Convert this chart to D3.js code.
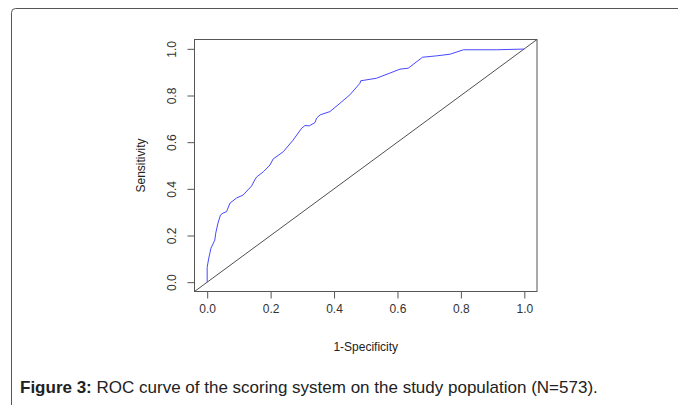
<!DOCTYPE html>
<html>
<head>
<meta charset="utf-8">
<script src="https://cdn.jsdelivr.net/npm/d3@7"></script>
<style>
  body { margin: 0; background: #fff; }
  svg { display: block; font-family: "Liberation Sans", Arial, sans-serif; }
</style>
</head>
<body>
<div id="chart"></div>
<script>
// ROC curve points (1-specificity, sensitivity)
var fpr = [0, 0, 0.005, 0.012, 0.024, 0.027, 0.034, 0.042, 0.050, 0.061, 0.072, 0.093,
    0.113, 0.128, 0.140, 0.150, 0.156, 0.177, 0.198, 0.208, 0.240, 0.271, 0.298, 0.308,
    0.322, 0.340, 0.345, 0.356, 0.387, 0.419, 0.450, 0.482, 0.484, 0.534, 0.576, 0.608,
    0.634, 0.679, 0.724, 0.766, 0.808, 0.913, 0.997, 1];
var tpr = [0, 0.064, 0.103, 0.146, 0.180, 0.210, 0.253, 0.288, 0.296, 0.302, 0.339, 0.361,
    0.373, 0.395, 0.412, 0.438, 0.451, 0.473, 0.502, 0.528, 0.559, 0.609, 0.660, 0.671,
    0.670, 0.684, 0.703, 0.717, 0.731, 0.767, 0.803, 0.853, 0.863, 0.874, 0.896, 0.913,
    0.917, 0.964, 0.970, 0.977, 0.996, 0.996, 0.999, 1];
var ticks = [0, 0.2, 0.4, 0.6, 0.8, 1.0];
var xLabel = "1-Specificity";
var yLabel = "Sensitivity";
var captionBold = "Figure 3:";
var captionText = " ROC curve of the scoring system on the study population (N=573).";

var width = 678, height = 405;

var svg = d3.select("#chart").append("svg")
    .attr("width", width)
    .attr("height", height);

// outer figure frame (runs off the right and bottom edges)
svg.append("rect")
    .attr("x", 11.5)
    .attr("y", 8.5)
    .attr("width", 700)
    .attr("height", 420)
    .attr("rx", 4)
    .style("fill", "none")
    .style("stroke", "#555")
    .style("stroke-width", "1px");

// plot box, R style 4% padding around [0,1]
var box = { left: 194.5, right: 537, top: 39.5, bottom: 291.5 };

var x = d3.scaleLinear()
    .domain([-0.04, 1.04])
    .range([box.left, box.right]);

var y = d3.scaleLinear()
    .domain([-0.04, 1.04])
    .range([box.bottom, box.top]);

var plot = svg.append("g");

// chance line
var diag = d3.line()
    .x(d => x(d))
    .y(d => y(d));

plot.append("path")
    .datum([-0.04, 1.04])
    .attr("d", diag)
    .style("fill", "none")
    .style("stroke", "#222")
    .style("stroke-width", "0.8px");

// roc curve
var roc = d3.line()
    .x(d => x(d[0]))
    .y(d => y(d[1]));

plot.append("path")
    .datum(fpr.map((d, i) => [d, tpr[i]]))
    .attr("d", roc)
    .style("fill", "none")
    .style("stroke", "#4848ff")
    .style("stroke-width", "1px");

// box
plot.append("rect")
    .attr("x", box.left)
    .attr("y", box.top)
    .attr("width", box.right - box.left)
    .attr("height", box.bottom - box.top)
    .style("fill", "none")
    .style("stroke", "#555")
    .style("stroke-width", "1px");

// x axis
var xAxis = svg.append("g")
    .attr("transform", "translate(0," + box.bottom + ")")
    .call(d3.axisBottom(x).tickValues(ticks).tickSize(7).tickPadding(6)
        .tickFormat(d3.format(".1f")));
xAxis.select(".domain").remove();
xAxis.selectAll("line").style("stroke", "#555");
xAxis.selectAll("text")
    .style("font-size", "12px")
    .style("fill", "#333")
    .style("font-family", "Liberation Sans, Arial, sans-serif");

// y axis, labels parallel to axis like R
var yAxis = svg.append("g")
    .attr("transform", "translate(" + box.left + ",0)")
    .call(d3.axisLeft(y).tickValues(ticks).tickSize(7).tickFormat(d3.format(".1f")));
yAxis.select(".domain").remove();
yAxis.selectAll("line").style("stroke", "#555");
yAxis.selectAll("text")
    .attr("x", null)
    .attr("dy", null)
    .attr("transform", "translate(-23,0) rotate(-90)")
    .attr("text-anchor", "middle")
    .attr("dominant-baseline", "central")
    .style("font-size", "12px")
    .style("fill", "#333")
    .style("font-family", "Liberation Sans, Arial, sans-serif");

// axis titles
svg.append("text")
    .attr("x", (box.left + box.right) / 2)
    .attr("y", 351)
    .attr("text-anchor", "middle")
    .style("font-size", "12px")
    .style("fill", "#222")
    .text(xLabel);

svg.append("text")
    .attr("transform", "translate(141," + (box.top + box.bottom) / 2 + ") rotate(-90)")
    .attr("text-anchor", "middle")
    .attr("dominant-baseline", "central")
    .style("font-size", "12px")
    .style("fill", "#222")
    .text(yLabel);

// caption
var cap = svg.append("text")
    .attr("x", 20)
    .attr("y", 393)
    .style("font-size", "17px")
    .style("fill", "#222");
cap.append("tspan").style("font-weight", "bold").text(captionBold);
cap.append("tspan").text(captionText);
</script>
</body>
</html>
